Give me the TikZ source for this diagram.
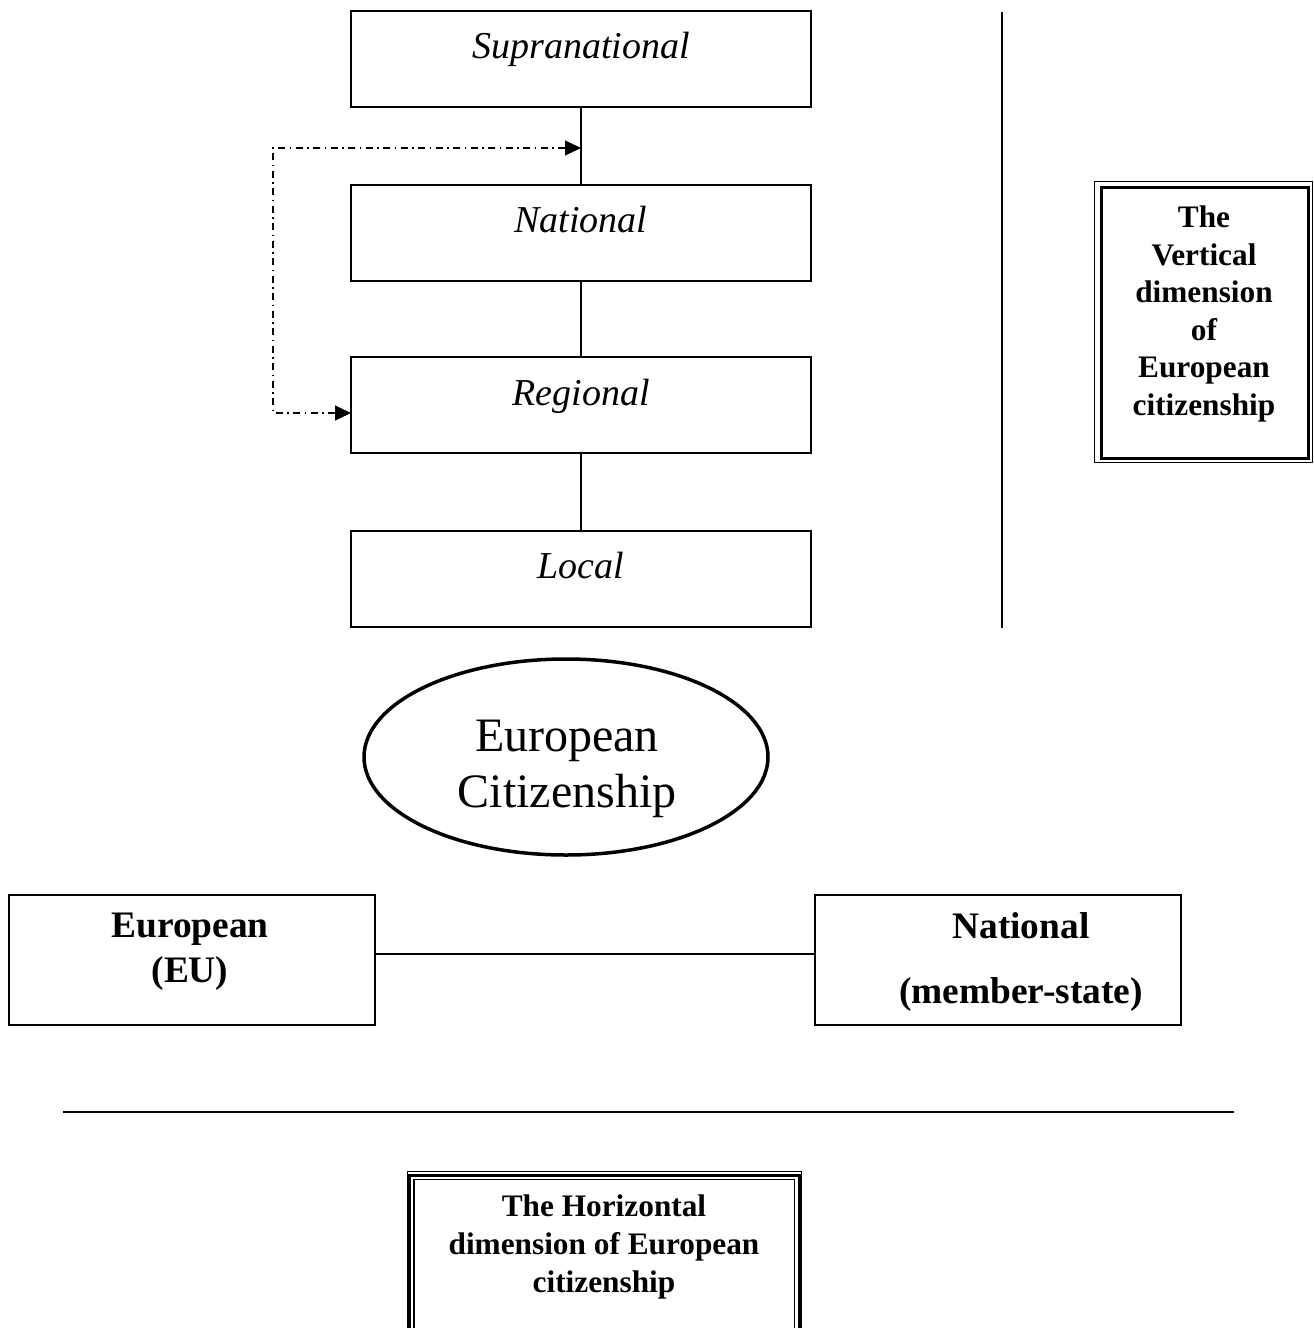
\documentclass[tikz,border=0pt]{standalone}
\usepackage{fontspec}
\setmainfont{Liberation Serif}
\usetikzlibrary{arrows.meta,shapes.geometric}
\begin{document}
\begin{tikzpicture}[x=1pt,y=-1pt,
  lvlbox/.style={draw, line width=1.3pt, minimum width=460pt, minimum height=96pt, inner sep=0pt},
  lvltext/.style={font=\itshape\fontsize{38}{44}\selectfont, inner sep=0pt, anchor=base},
  hbox/.style={draw, line width=1.3pt, minimum width=366pt, minimum height=130pt, inner sep=0pt},
  htext/.style={font=\bfseries\fontsize{37.4}{45}\selectfont, inner sep=0pt, align=center},
  conn/.style={line width=1.3pt},
  ddot/.style={line width=1.1pt, dash pattern=on 7pt off 4.5pt on 1.5pt off 4.5pt,
    {Triangle[length=16pt,width=15pt]}-{Triangle[length=16pt,width=15pt]}},
  frametext/.style={font=\bfseries\fontsize{31.3}{37.6}\selectfont, inner sep=0pt, align=center}
]
\useasboundingbox (0,0) rectangle (1314,1328);
\clip (0,0) rectangle (1314,1328);

% vertical levels
\node[lvlbox] (sup) at (581,59) {};
\node[lvlbox] (nat) at (581,233) {};
\node[lvlbox] (reg) at (581,405) {};
\node[lvlbox] (loc) at (581,579) {};
\node[lvltext] (tsup) at (581,58) {Supranational};
\node[lvltext] (tnat) at (581,232) {National};
\node[lvltext] (treg) at (581,405) {Regional};
\node[lvltext] (tloc) at (581,578) {Local};
\draw[conn] (sup.south) -- (nat.north);
\draw[conn] (nat.south) -- (reg.north);
\draw[conn] (reg.south) -- (loc.north);

% dash-dot double arrow
\coordinate (ma) at (581,148);
\coordinate (c1) at (273,148);
\coordinate (c2) at (273,413);
\coordinate (ra) at (351,413);
\draw[ddot] (ma) -- (c1) -- (c2) -- (ra);

% vertical separator
\coordinate (v1) at (1002,12);
\coordinate (v2) at (1002,628);
\draw[conn] (v1) -- (v2);

% vertical dimension frame
\draw[line width=1.2pt] (1094.5,181.5) rectangle (1312.5,462.5);
\node[draw, line width=3.2pt, minimum width=207pt, minimum height=271pt, inner sep=0pt] (vframe) at (1205,323) {};
\node[frametext] (vtext) at (1204,314) {The\\Vertical\\dimension\\of\\European\\citizenship};

% ellipse
\node[draw, ellipse, line width=3.5pt, minimum width=404pt, minimum height=196pt, inner sep=0pt] (ell) at (566,757) {};
\node[font=\fontsize{48}{56}\selectfont, inner sep=0pt, align=center] (etext) at (567,769) {European\\Citizenship};

% horizontal boxes
\node[hbox] (eu) at (192,960) {};
\node[hbox] (ns) at (998,960) {};
\node[htext] (teu) at (190,952) {European\\(EU)};
\node[htext, font=\bfseries\fontsize{37.4}{65}\selectfont] (tns) at (1021,961.5) {National\\(member-state)};
\coordinate (ly) at (0,954);
\draw[conn] (eu.east |- ly) -- (ns.west |- ly);

% horizontal separator
\coordinate (h1) at (63,1112);
\coordinate (h2) at (1234,1112);
\draw[conn] (h1) -- (h2);

% horizontal dimension frame
\draw[line width=1.2pt] (407.5,1171.2) rectangle (801.5,1345);
\draw[line width=3.5pt] (409,1175.5) rectangle (799.5,1345);
\draw[line width=1.2pt] (414,1179.8) rectangle (794.5,1340);
\node[frametext] (htx) at (604,1247) {The Horizontal\\dimension of European\\citizenship};
\end{tikzpicture}
\end{document}
